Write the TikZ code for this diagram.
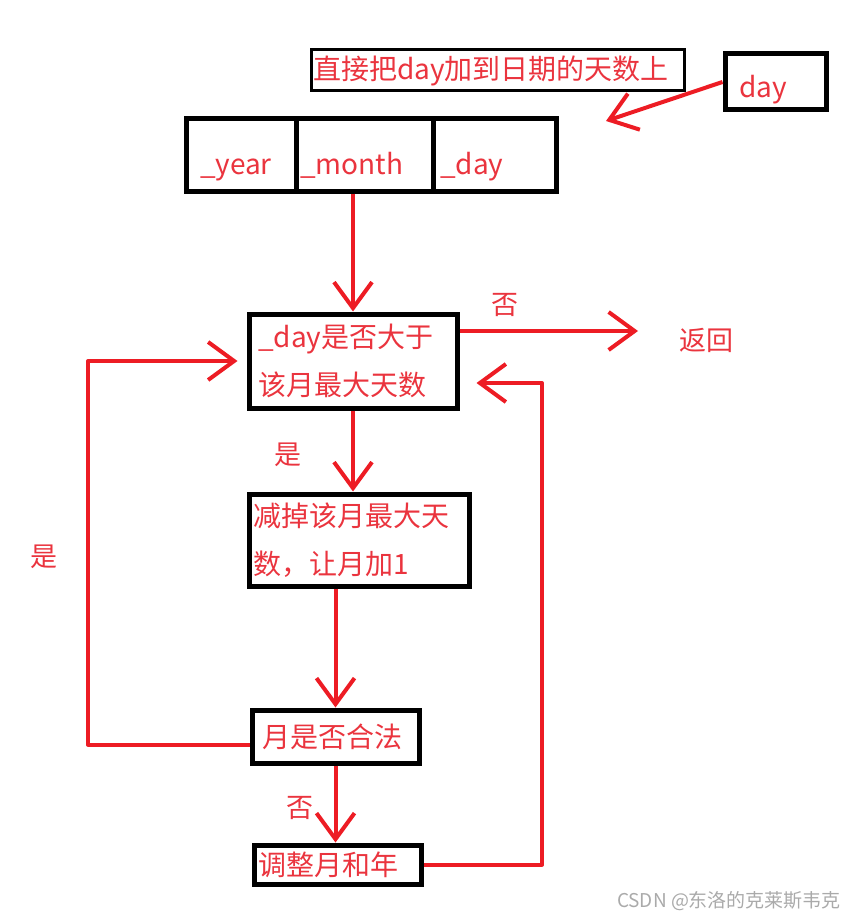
\documentclass[tikz,border=0pt]{standalone}
\usepackage{fontspec}
\setmainfont{Noto Sans CJK SC}
\usetikzlibrary{arrows.meta}
\definecolor{linered}{RGB}{237,28,36}
\definecolor{txtred}{RGB}{234,52,62}
\definecolor{markgray}{RGB}{170,170,170}
\tikzset{
	box/.style={draw, line width=5pt, inner sep=0pt, text=txtred, align=left,
		font=\fontsize{28}{48}\selectfont},
	cell/.style={box, minimum height=72pt, text height=46pt, text depth=6pt},
	flow/.style={draw=linered, line width=4pt, line join=round,
		-{Straight Barb[length=26pt,width=38pt,line width=4pt]}},
	lbl/.style={text=txtred, font=\fontsize{27}{32}\selectfont, inner sep=0pt},
}
\begin{document}
\begin{tikzpicture}[x=1pt, y=-1pt]
	\useasboundingbox (0, 0) rectangle (859, 920);
	% Boxes and labels:
	\node[box, line width=3pt, minimum width=373pt, minimum height=41pt,
		text width=369pt] (hint) at (497.5, 70.5) {直接把day加到日期的天数上};
	\node[box, minimum width=101pt, minimum height=56pt, text width=73pt,
		text height=38pt, text depth=6pt] (day) at (775.5, 82) {day};
	\node[cell, minimum width=110pt, text width=82pt] (yr) at (241, 155) {\_year};
	\node[cell, minimum width=137pt, text width=129pt] (mon) at (364.5, 155) {\_month};
	\node[cell, minimum width=123pt, text width=109pt] (dy) at (494.5, 155) {\_day};
	\node[box, minimum width=208pt, minimum height=94pt, text width=190pt] (check) at (353, 361)
		{\_day是否大于\\该月最大天数};
	\node[box, minimum width=220pt, minimum height=92pt, text width=212pt] (sub) at (359, 540)
		{减掉该月最大天\\数，让月加1};
	\node[box, minimum width=167pt, minimum height=53pt, text width=147pt] (legal) at (335.5, 736.5) {月是否合法};
	\node[box, minimum width=167pt, minimum height=39pt, text width=159pt] (adjust) at (337.5, 864.5) {调整月和年};
	\node[lbl] (ret) at (706, 340) {返回};
	\node[lbl] (no1) at (505, 305) {否};
	\node[lbl] (yes1) at (288, 455) {是};
	\node[lbl] (yes2) at (44, 557) {是};
	\node[lbl] (no2) at (300, 808) {否};
	\node[text=markgray, font=\fontsize{19}{21}\selectfont, inner sep=0pt] (mark) at (729, 901)
		{CSDN @东洛的克莱斯韦克};
	% Connectors:
	\coordinate (into) at (606, 121);
	\coordinate (retin) at (638, 331);
	\coordinate (lft) at (88, 0);
	\coordinate (rgt) at (542, 0);
	\coordinate (chkin) at ([xshift=17pt, yshift=-22pt]check.east);
	\draw[flow] (day.west) -- (into);
	\draw[flow] (mon.south -| check.north) -- (check.north);
	\draw[flow] ([yshift=30pt]check.east) -- (retin);
	\draw[flow] (check.south) -- (check.south |- sub.north);
	\draw[flow] (legal.north |- sub.south) -- (legal.north);
	\draw[flow, shorten >=9pt] ([yshift=-8pt]legal.west) -| (lft |- check.west) -- (check.west);
	\draw[flow] (legal.south) -- (legal.south |- adjust.north);
	\draw[flow] (adjust.east) -| (rgt |- chkin) -- (chkin);
\end{tikzpicture}
\end{document}
